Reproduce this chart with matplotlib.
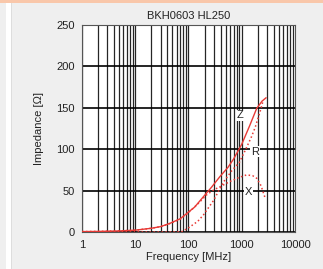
import matplotlib
matplotlib.use('Agg')
import matplotlib.pyplot as plt
from matplotlib.patches import Rectangle
from matplotlib.ticker import FixedLocator, FixedFormatter, NullLocator

plt.rcParams['font.family'] = ['Liberation Sans', 'DejaVu Sans']

# curve data (frequency in MHz, ohms)
z_freq = [1, 2, 5, 10, 20, 30, 45, 70, 93, 130, 190, 270, 390, 550, 700, 1000, 1400, 1900, 2400, 2850]
z_vals = [0.5, 0.7, 1.3, 2.2, 4.5, 6.5, 10.5, 16, 22.5, 30, 42.5, 54, 67, 78, 88, 106, 128, 149, 158, 162]

r_freq = [1, 10, 50, 75, 100, 150, 190, 295, 450, 650, 900, 1150, 1500, 1780, 2200, 2530]
r_vals = [0, 0, 0, 0.5, 5, 13, 20.5, 38, 60, 74, 84, 98, 114, 126, 145, 159]

x_freq = [1, 2, 5, 10, 20, 30, 45, 70, 93, 150, 220, 300, 400, 600, 900, 1240, 1600, 1900, 2300, 2750]
x_vals = [0.5, 0.7, 1.3, 2.2, 4.5, 6.5, 10.3, 15.5, 21.5, 34, 45, 51, 55, 61, 66, 69, 68, 65, 56, 41]

labels = ['Z', 'R', 'X']
label_pos = [(930, 141), (1780, 97), (1320, 48)]

title = 'BKH0603 HL250'
x_ticks = [1, 10, 100, 1000, 10000]
x_tick_labels = ['1', '10', '100', '1000', '10000']
y_ticks = [0, 50, 100, 150, 200, 250]

fig = plt.figure(figsize=(3.23, 2.69), dpi=100, facecolor='#efefef')
W, H = 323.0, 269.0
fig.patches.append(Rectangle((6 / W, 0), 5 / W, 1, transform=fig.transFigure,
                             facecolor='white', edgecolor='none', zorder=0))
fig.patches.append(Rectangle((11 / W, 0), 1 / W, 1, transform=fig.transFigure,
                             facecolor='#dddddd', edgecolor='none', zorder=0))
fig.patches.append(Rectangle((0, 1 - 3 / H), 1, 3 / H, transform=fig.transFigure,
                             facecolor='#f9c7aa', edgecolor='none', zorder=0))

ax = fig.add_axes([82 / W, 37 / H, 213 / W, 207 / H])
ax.set_facecolor('white')
ax.set_xscale('log')
ax.set_xlim(1, 10000)
ax.set_ylim(0, 250)

# grid: every 1..9 per decade, horizontal every 50
vlines = [m * 10 ** d for d in range(4) for m in range(1, 10)]
for v in vlines:
    ax.axvline(v, color='black', lw=0.9, alpha=0.85, zorder=1)
for h in y_ticks:
    ax.axhline(h, color='black', lw=1.2, zorder=1)

ax.plot(z_freq, z_vals, color='#e83a36', lw=1.0, zorder=3)
ax.plot(r_freq, r_vals, color='#e83a36', lw=1.1, ls=(0, (1, 1.6)), zorder=3)
ax.plot(x_freq, x_vals, color='#e83a36', lw=1.1, ls=(0, (1, 1.6)), zorder=3)

for lab, (fx, fy) in zip(labels, label_pos):
    ax.text(fx, fy, lab, fontsize=8, color='#222222', ha='center', va='center', zorder=4,
            bbox=dict(facecolor='white', edgecolor='none', pad=0.5))

ax.xaxis.set_major_locator(FixedLocator(x_ticks))
ax.xaxis.set_major_formatter(FixedFormatter(x_tick_labels))
ax.xaxis.set_minor_locator(NullLocator())
ax.set_yticks(y_ticks)
ax.tick_params(axis='y', length=0, labelsize=8, pad=5, colors='#222222')
ax.tick_params(axis='x', length=0, labelsize=8, pad=6, colors='#222222')
for s in ax.spines.values():
    s.set_color('#555555')
    s.set_linewidth(0.8)

ax.set_title(title, fontsize=8, pad=4, color='#222222')
ax.set_xlabel('Frequency [MHz]', fontsize=8, labelpad=1, color='#222222')
ax.set_ylabel('Impedance [\u03a9]', fontsize=8, labelpad=9, color='#222222')

fig.savefig('out.png', dpi=100, facecolor=fig.get_facecolor())
